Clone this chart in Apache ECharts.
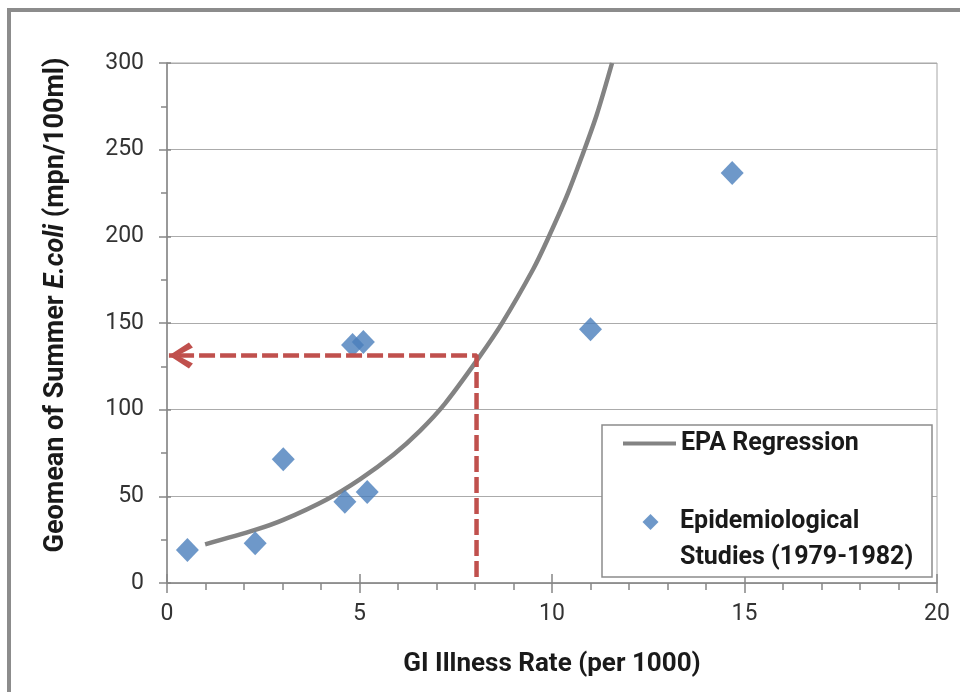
<!DOCTYPE html>
<html>
<head>
<meta charset="utf-8">
<script src="https://cdn.jsdelivr.net/npm/echarts@6/dist/echarts.min.js"></script>
<style>html,body{margin:0;padding:0;background:#fff;}#c{width:960px;height:692px;}</style>
</head>
<body>
<div id="c"></div>
<script>
// ---- data ----
const regressionX = [0.99, 2.29, 3.02, 4.15, 5.01, 5.88, 6.57, 7.22, 8.10, 8.72, 9.51, 9.86, 10.38, 10.80, 11.16, 11.56];
const regressionY = [22.3, 30.6, 36.4, 48.2, 59.8, 74.0, 87.8, 103.5, 130.0, 150.5, 181.0, 197.0, 223.0, 247.5, 270.0, 300.0];
const studyX = [0.53, 2.29, 3.02, 4.62, 4.82, 5.10, 5.20, 11.0, 14.68];
const studyY = [19.0, 22.9, 71.4, 46.9, 137.3, 139.0, 52.5, 146.4, 236.6];
const arrowX = [8.04, 8.04, 0.05];
const arrowY = [3.5, 131.3, 131.3];
const xTickLabels = ['0', '5', '10', '15', '20'];
const yTickLabels = ['0', '50', '100', '150', '200', '250', '300'];
const seriesNames = ['EPA Regression', 'Epidemiological Studies (1979-1982)'];

const FONT = 'Roboto';
const chart = echarts.init(document.getElementById('c'), null, {renderer: 'canvas'});

const regData = regressionX.map((x, i) => [x, regressionY[i]]);
const studyData = studyX.map((x, i) => [x, studyY[i]]);
const arrowData = arrowX.map((x, i) => {
  const d = {value: [x, arrowY[i]]};
  if (i === arrowX.length - 1) {
    d.symbol = 'path://M0,13 L20,0 L24,5 L9,13 L24,21 L20,26 Z';
    d.symbolSize = [24, 26];
    d.symbolOffset = [12, 0];
  } else {
    d.symbol = 'none';
  }
  return d;
});

const axisGray = '#868686';
const xAxisBase = {type: 'value', min: 0, max: 20, interval: 5, position: 'bottom'};
const yAxisBase = {type: 'value', min: 0, max: 300, interval: 50, position: 'left'};

// diamond icon placed in the upper part of a 49x72 legend box (aligned with the first text line)
const legendDiamond = 'path://M0,0 L0,0 M6.125,9 L6.125,9 M3.0625,1.25 L4.0625,2.25 L3.0625,3.25 L2.0625,2.25 Z';

chart.setOption({
  animation: false,
  backgroundColor: '#ffffff',
  grid: {left: 167, right: 23, top: 63, bottom: 109, show: true, borderColor: '#A6A6A6', borderWidth: 1, backgroundColor: 'transparent'},
  graphic: [
    {type: 'rect', z: 0, silent: true, shape: {x: 9, y: 10, width: 1000, height: 1000},
     style: {fill: 'none', stroke: '#8C8C8C', lineWidth: 4}},
    {type: 'rect', z: 3, silent: true, shape: {x: 602, y: 425, width: 330, height: 152},
     style: {fill: '#ffffff', stroke: '#8C8C8C', lineWidth: 1.5}}
  ],
  xAxis: [
    Object.assign({}, xAxisBase, {
      name: 'GI Illness Rate (per 1000)', nameLocation: 'middle', nameGap: 68,
      nameTextStyle: {fontFamily: FONT, fontSize: 26, fontWeight: 'bold', color: '#1a1a1a'},
      axisLine: {show: true, lineStyle: {color: axisGray, width: 1.5}},
      axisTick: {show: true, inside: false, length: 10, lineStyle: {color: axisGray, width: 1.5}},
      minorTick: {show: true, splitNumber: 5, length: 7, lineStyle: {color: axisGray, width: 1.5}},
      axisLabel: {fontFamily: FONT, fontSize: 23, color: '#333333', margin: 20,
        formatter: v => xTickLabels[Math.round(v / 5)]},
      splitLine: {show: false}
    }),
    Object.assign({}, xAxisBase, {
      axisLine: {show: false},
      axisTick: {show: true, inside: true, length: 9, lineStyle: {color: axisGray, width: 1.5}},
      axisLabel: {show: false}, splitLine: {show: false}
    })
  ],
  yAxis: [
    Object.assign({}, yAxisBase, {
      name: 'Geomean of Summer {i|E.coli} (mpn/100ml)', nameLocation: 'middle', nameGap: 97,
      nameTextStyle: {fontFamily: FONT, fontSize: 27, fontWeight: 'bold', color: '#1a1a1a', padding: [0, 0, 0, 36],
        rich: {i: {fontFamily: FONT, fontSize: 27, fontWeight: 'bold', fontStyle: 'italic', color: '#1a1a1a'}}},
      axisLine: {show: true, lineStyle: {color: axisGray, width: 1.5}},
      axisTick: {show: true, inside: false, length: 8, lineStyle: {color: axisGray, width: 1.5}},
      minorTick: {show: true, splitNumber: 2, length: 6, lineStyle: {color: axisGray, width: 1.5}},
      axisLabel: {fontFamily: FONT, fontSize: 23, color: '#333333', margin: 23,
        formatter: v => yTickLabels[Math.round(v / 50)]},
      splitLine: {show: true, lineStyle: {color: '#ABABAB', width: 1.2}}
    }),
    Object.assign({}, yAxisBase, {
      axisLine: {show: false},
      axisTick: {show: true, inside: true, length: 4, lineStyle: {color: axisGray, width: 1.5}},
      axisLabel: {show: false}, splitLine: {show: false}
    })
  ],
  legend: [
    {
      data: [seriesNames[0]], orient: 'vertical', left: 623, top: 431, padding: 0,
      selectedMode: false, icon: 'rect', itemWidth: 53, itemHeight: 4, z: 5,
      textStyle: {fontFamily: FONT, fontSize: 25, fontWeight: 'bold', color: '#1a1a1a'}
    },
    {
      data: [seriesNames[1]], orient: 'vertical', left: 626, top: 504, padding: 0,
      selectedMode: false, icon: legendDiamond, itemWidth: 49, itemHeight: 72, z: 5,
      formatter: n => n.replace(' Studies', '\nStudies'),
      textStyle: {fontFamily: FONT, fontSize: 25, fontWeight: 'bold', color: '#1a1a1a', lineHeight: 36}
    }
  ],
  series: [
    {
      name: seriesNames[0], type: 'line', data: regData, smooth: 0.3,
      symbol: 'none', showSymbol: false,
      z: 2, lineStyle: {color: '#838383', width: 4.5}, itemStyle: {color: '#838383'}
    },
    {
      name: seriesNames[1], type: 'scatter', data: studyData, symbol: 'diamond', symbolSize: [23, 24],
      z: 3, itemStyle: {color: '#4A7EBB'}
    },
    {
      name: 'arrow', type: 'line', data: arrowData, showSymbol: true, z: 4, silent: true,
      lineStyle: {color: '#C0504D', width: 4.5, type: [16, 5]}, itemStyle: {color: '#C0504D'}
    }
  ]
});
</script>
</body>
</html>
